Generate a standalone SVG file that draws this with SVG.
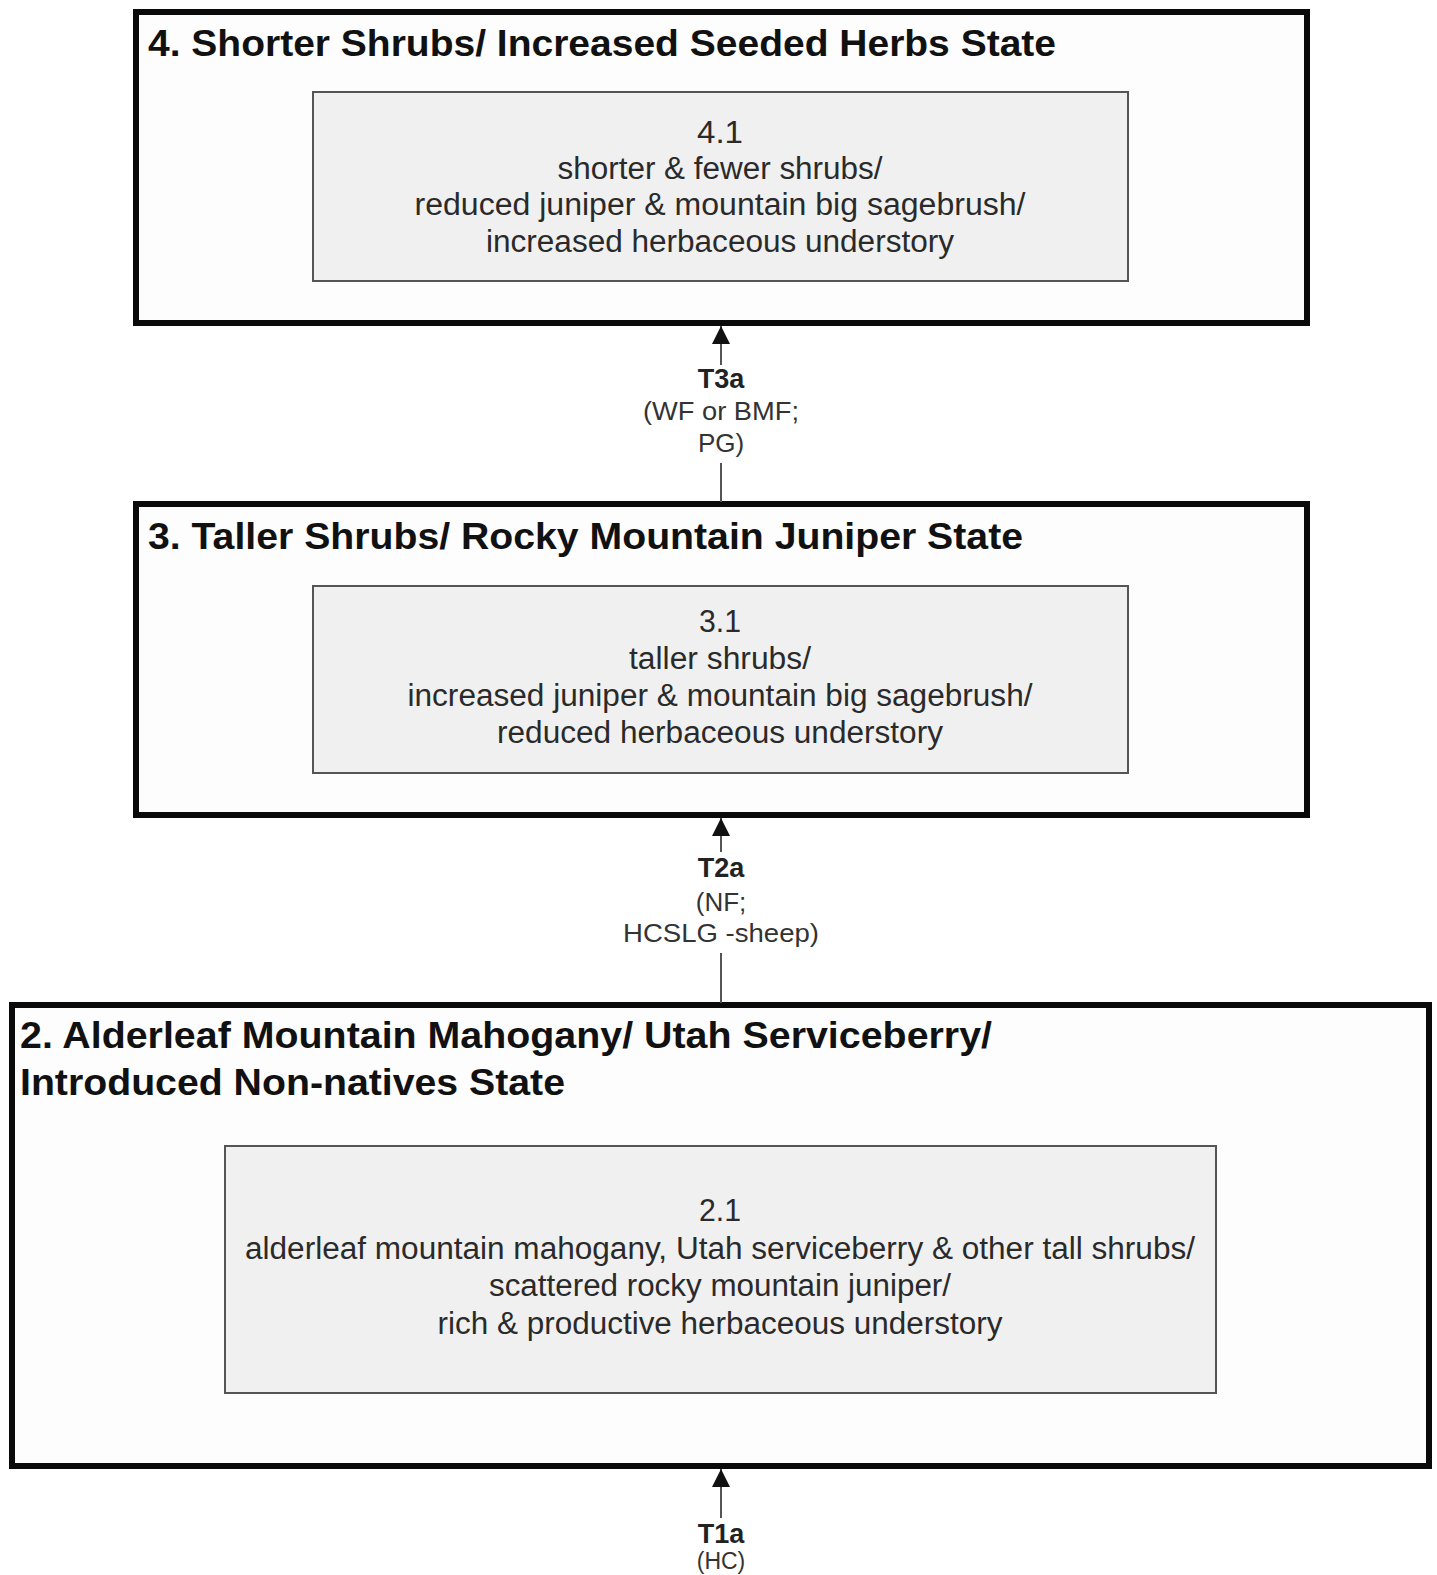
<svg xmlns="http://www.w3.org/2000/svg" width="1437" height="1575" viewBox="0 0 1437 1575">
<style>
.bg{fill:#ffffff}
.state{fill:#fdfdfd;stroke:#0a0a0a;stroke-width:6}
.comm{fill:#f0f0f0;stroke:#555555;stroke-width:2}
.title{font-family:"Liberation Sans",Arial,sans-serif;font-weight:bold;font-size:37px;fill:#111111}
.body{font-family:"Liberation Sans",Arial,sans-serif;font-size:31px;fill:#2a2a2a;text-anchor:middle}
.tl{font-family:"Liberation Sans",Arial,sans-serif;font-weight:bold;font-size:27px;fill:#222222;text-anchor:middle}
.tx{font-family:"Liberation Sans",Arial,sans-serif;font-size:26px;fill:#333333;text-anchor:middle}
.conn{stroke:#555555;stroke-width:2;fill:none}
</style>
<defs>
<marker id="arr" viewBox="0 0 10 10" refX="10" refY="5" markerUnits="userSpaceOnUse" markerWidth="18" markerHeight="20" orient="auto">
<path d="M0,0 L10,5 L0,10 z" fill="#111111"/>
</marker>
</defs>
<rect class="bg" x="0" y="0" width="1437" height="1575"/>

<g id="state4">
<rect class="state" x="136" y="12" width="1171" height="311"/>
<text class="title" x="148" y="56" textLength="908" lengthAdjust="spacingAndGlyphs">4. Shorter Shrubs/ Increased Seeded Herbs State</text>
<g id="comm41">
<rect class="comm" x="313" y="92" width="815" height="189"/>
<text class="body" x="720" y="143" textLength="46" lengthAdjust="spacingAndGlyphs">4.1</text>
<text class="body" x="720" y="179" textLength="325" lengthAdjust="spacingAndGlyphs">shorter &amp; fewer shrubs/</text>
<text class="body" x="720" y="215" textLength="611" lengthAdjust="spacingAndGlyphs">reduced juniper &amp; mountain big sagebrush/</text>
<text class="body" x="720" y="252" textLength="468" lengthAdjust="spacingAndGlyphs">increased herbaceous understory</text>
</g>
</g>

<g id="state3">
<rect class="state" x="136" y="504" width="1171" height="311"/>
<text class="title" x="148" y="549" textLength="875" lengthAdjust="spacingAndGlyphs">3. Taller Shrubs/ Rocky Mountain Juniper State</text>
<g id="comm31">
<rect class="comm" x="313" y="586" width="815" height="187"/>
<text class="body" x="720" y="632" textLength="42" lengthAdjust="spacingAndGlyphs">3.1</text>
<text class="body" x="720" y="669" textLength="182" lengthAdjust="spacingAndGlyphs">taller shrubs/</text>
<text class="body" x="720" y="706" textLength="625" lengthAdjust="spacingAndGlyphs">increased juniper &amp; mountain big sagebrush/</text>
<text class="body" x="720" y="743" textLength="446" lengthAdjust="spacingAndGlyphs">reduced herbaceous understory</text>
</g>
</g>

<g id="state2">
<rect class="state" x="12" y="1005" width="1417" height="461"/>
<text class="title" x="20" y="1048" textLength="972" lengthAdjust="spacingAndGlyphs">2. Alderleaf Mountain Mahogany/ Utah Serviceberry/</text>
<text class="title" x="20" y="1095" textLength="545" lengthAdjust="spacingAndGlyphs">Introduced Non-natives State</text>
<g id="comm21">
<rect class="comm" x="225" y="1146" width="991" height="247"/>
<text class="body" x="720" y="1221" textLength="42" lengthAdjust="spacingAndGlyphs">2.1</text>
<text class="body" x="720" y="1259" textLength="950" lengthAdjust="spacingAndGlyphs">alderleaf mountain mahogany, Utah serviceberry &amp; other tall shrubs/</text>
<text class="body" x="720" y="1296" textLength="462" lengthAdjust="spacingAndGlyphs">scattered rocky mountain juniper/</text>
<text class="body" x="720" y="1334" textLength="565" lengthAdjust="spacingAndGlyphs">rich &amp; productive herbaceous understory</text>
</g>
</g>

<g id="connectors">
<g id="t3a">
<line class="conn" x1="721" y1="365" x2="721" y2="326" marker-end="url(#arr)"/>
<line class="conn" x1="721" y1="463" x2="721" y2="502"/>
<text class="tl" x="721" y="388">T3a</text>
<text class="tx" x="721" y="420" textLength="156" lengthAdjust="spacingAndGlyphs">(WF or BMF;</text>
<text class="tx" x="721" y="452">PG)</text>
</g>
<g id="t2a">
<line class="conn" x1="721" y1="852" x2="721" y2="818" marker-end="url(#arr)"/>
<line class="conn" x1="721" y1="953" x2="721" y2="1003"/>
<text class="tl" x="721" y="877">T2a</text>
<text class="tx" x="721" y="911">(NF;</text>
<text class="tx" x="721" y="942" textLength="196" lengthAdjust="spacingAndGlyphs">HCSLG -sheep)</text>
</g>
<g id="t1a">
<line class="conn" x1="721" y1="1518" x2="721" y2="1469" marker-end="url(#arr)"/>
<text class="tl" x="721" y="1543">T1a</text>
<text class="tx" x="721" y="1569" style="font-size:23px">(HC)</text>
</g>
</g>
</svg>
